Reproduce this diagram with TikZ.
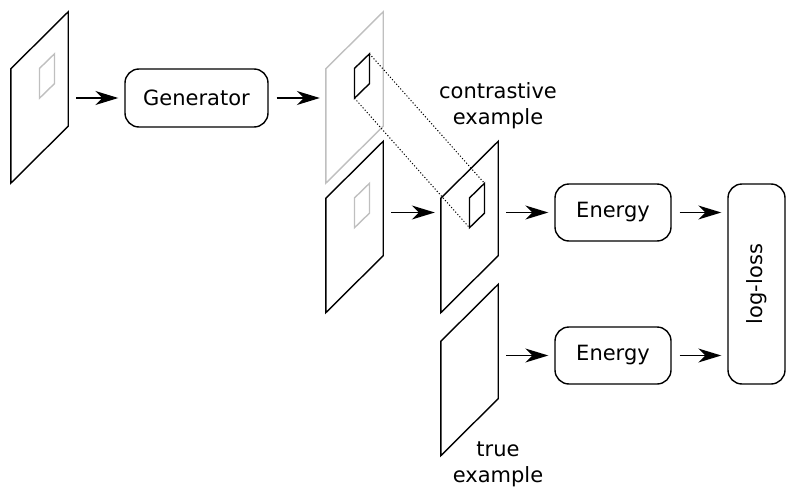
\documentclass[tikz,border=0pt]{standalone}
\usepackage{fontspec}
\setmainfont{DejaVu Sans}
\usetikzlibrary{arrows.meta,calc}

\tikzset{
  frame/.style={draw=none, inner sep=0pt, minimum width=57pt, minimum height=171pt},
  window/.style={draw=none, inner sep=0pt, minimum width=14.6pt, minimum height=44pt},
  block/.style={draw, line width=1.4pt, rounded corners=14pt, inner sep=0pt,
    font=\fontsize{21}{25}\selectfont},
  flow/.style={line width=1.4pt, -{Stealth[length=23pt,width=14pt,inset=7pt]},
    shorten <=8pt, shorten >=6pt},
  link/.style={line width=1pt, dash pattern=on 1.1pt off 2pt},
  caption/.style={align=center, inner sep=0pt,
    font=\fontsize{21}{26}\selectfont},
  ink/.style={draw=black, line width=1.4pt, line join=miter},
  faint/.style={draw=black!25, line width=1.4pt, line join=miter},
}

% slanted image plane: name, centre, line style, window style
\newcommand\plane[4]{%
  \node[frame] (#1) at (#2) {};
  \draw[#3] ($(#1.north west)+(0,57)$) -- (#1.south west)
    -- ($(#1.south east)+(0,-57)$) -- (#1.north east) -- cycle;
  \ifx\relax#4\relax\else
    \node[window] (#1w) at ($(#1.center)+(7.5,-21.5)$) {};
    \draw[#4] ($(#1w.north west)+(0,14.6)$) -- (#1w.south west)
      -- ($(#1w.south east)+(0,-14.6)$) -- (#1w.north east) -- cycle;
  \fi
}

\begin{document}
\begin{tikzpicture}[x=1pt, y=-1pt]
  \useasboundingbox (0,0) rectangle (796,498);

  % image planes
  \plane{input}{39.5,97.5}{ink}{faint}
  \plane{fake}{354.5,97.5}{faint}{ink}
  \plane{real}{354.5,227}{ink}{faint}
  \plane{mixed}{469.5,227}{ink}{ink}
  \plane{truth}{469.5,370}{ink}{}

  % boxes
  \node[block, minimum width=143pt, minimum height=58pt] (gen) at (196.5,98) {Generator};
  \node[block, minimum width=116pt, minimum height=57pt] (en1) at (613,212.5) {Energy};
  \node[block, minimum width=116pt, minimum height=57pt] (en2) at (613,355.5) {Energy};
  \node[block, minimum width=57pt, minimum height=200pt] (loss) at (756.5,284) {};
  \node[font=\fontsize{21}{25}\selectfont, rotate=90] (losstext) at (loss.center) {log-loss};

  % labels
  \node[caption] (ctext) at (498,106) {contrastive\\example};
  \node[caption] (ttext) at (498,464) {true\\example};

  % patch pasted from the generated image
  \draw[link] (fakew.north east) -- (mixedw.north east);
  \draw[link] (fakew.south west) -- (mixedw.south west);

  % data flow
  \draw[flow] (input.east |- gen) -- (gen.west);
  \draw[flow] (gen.east) -- (fake.west |- gen);
  \draw[flow] (real.east |- en1) -- (mixed.west |- en1);
  \draw[flow] (mixed.east |- en1) -- (en1.west);
  \draw[flow] (truth.east |- en2) -- (en2.west);
  \draw[flow] (en1.east) -- (loss.west |- en1);
  \draw[flow] (en2.east) -- (loss.west |- en2);
\end{tikzpicture}
\end{document}
